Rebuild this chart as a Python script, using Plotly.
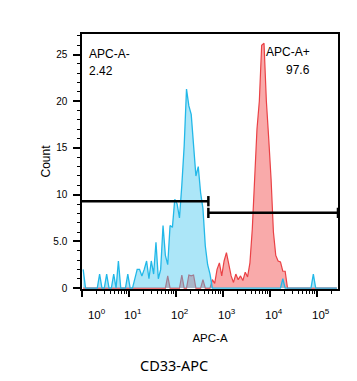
import plotly.graph_objects as go
import numpy as np

# ---- data (x in decades of APC-A, bins of 0.05 decade) ----
bin_start = 0.0
bin_width = 0.05
blue_counts = [2, 0, 0, 0, 0, 0, 0, 1.5, 0, 0,
               1.5, 0, 0, 1.5, 0, 2.9, 0, 0, 0, 1.5,
               0, 0, 1, 2, 2, 1.3, 2, 2.9, 1, 2.9,
               1.5, 4.9, 1, 2, 6.7, 3.5, 2.5, 6.7, 6.5, 9.5,
               9, 7.5, 11, 15.2, 21.3, 19.5, 18.6, 15.2, 12, 13,
               10.2, 8.5, 4.5, 2.5, 1.5, 0, 0, 0, 0, 0,
               0, 0, 0, 0, 0, 0, 0, 0, 0, 0,
               0, 0, 0, 0, 0, 0, 0, 0, 0, 0,
               0, 0, 0, 0, 0, 1, 0, 0, 0, 0,
               0, 0, 0, 0, 0, 0, 0, 0, 1.5, 0,
               0, 0, 0, 0, 0, 0, 0, 0, 0]
red_counts = [0, 0, 0, 0, 0, 0, 0, 0, 0, 0,
              0, 0, 0, 0, 0, 0, 0, 0, 0, 0,
              0, 0, 0, 0, 0, 0, 0, 0, 0, 0,
              0, 0, 0, 0, 0, 0, 1.3, 0, 0, 0,
              0, 0, 1.4, 0, 0, 1.4, 1.3, 1.4, 0, 0,
              0, 0.9, 0, 0, 0, 0.9, 0.5, 2, 2.7, 1.3,
              2.9, 3.8, 2.4, 1.3, 0.6, 1.5, 0.9, 1.3, 0.8, 1.7,
              1.2, 2.7, 6.3, 12.5, 17, 20, 26, 26.2, 20, 16,
              11.7, 6, 3.5, 2.9, 2.8, 1.8, 1.8, 0, 0, 0,
              0, 0, 0, 0, 0, 0, 0, 0, 0, 0,
              0, 0, 0, 0, 0, 0, 0, 0, 0]

x_range = [0, 5.45]
y_range = [-0.1, 27.2]

y_tickvals = [0, 5, 10, 15, 20, 25]
y_ticktext = ["0", "5.0", "10", "15", "20", "25"]
x_decades = [0, 1, 2, 3, 4, 5]
x_ticktext = ["10<sup>%d</sup>" % d for d in x_decades]
x_label_pos = [0.31, 1.08, 2.08, 3.08, 4.08, 5.08]

gate_split = 2.69
gate_neg = {"name": "APC-A-", "x": [0, gate_split], "y": 9.3, "pct": "2.42"}
gate_pos = {"name": "APC-A+", "x": [gate_split, 5.45], "y": 8.05, "pct": "97.6"}

# ---- build ----
n = len(blue_counts)
xc = bin_start + bin_width * (np.arange(n) + 0.5)

fig = go.Figure()
fig.add_trace(go.Scatter(x=xc, y=red_counts, mode="lines", line=dict(color="#ea4145", width=1.2),
                         fill="tozeroy", fillcolor="#f9aaaa", hoverinfo="skip", showlegend=False))
fig.add_trace(go.Scatter(x=xc, y=blue_counts, mode="lines", line=dict(color="#22b8e8", width=1.3),
                         fill="tozeroy", fillcolor="rgba(70,200,240,0.45)", hoverinfo="skip",
                         showlegend=False))

# gates
h = 0.55
for g, left_tick in ((gate_neg, False), (gate_pos, True)):
    x0, x1 = g["x"]
    y = g["y"]
    gx, gy = [], []
    if left_tick:
        gx += [x0, x0, None]
        gy += [y - h, y + h, None]
    gx += [x0, x1, None, x1, x1]
    gy += [y, y, None, y - h, y + h]
    fig.add_trace(go.Scatter(x=gx, y=gy, mode="lines", line=dict(color="black", width=2.5),
                             hoverinfo="skip", showlegend=False, cliponaxis=False))

minor_x = [d + np.log10(k) for d in range(0, 6) for k in range(2, 10) if d + np.log10(k) < x_range[1]]

fig.update_layout(
    width=357, height=381,
    margin=dict(l=82, r=19, t=34, b=92),
    paper_bgcolor="white", plot_bgcolor="white",
    font=dict(family="Liberation Sans, Arial, sans-serif", color="black", size=10),
    xaxis=dict(range=x_range, showgrid=False, zeroline=False,
               showline=True, linecolor="black", linewidth=1.5, mirror=True,
               tickmode="array", tickvals=x_decades, showticklabels=False,
               ticks="outside", ticklen=6, tickwidth=2, tickcolor="black",
               minor=dict(tickmode="array", tickvals=minor_x, ticks="outside",
                          ticklen=3, tickwidth=1, tickcolor="black")),
    xaxis2=dict(range=x_range, overlaying="x", anchor="y", side="bottom", showgrid=False,
                zeroline=False, showline=False, ticks="", tickmode="array",
                tickvals=x_label_pos, ticktext=x_ticktext, tickfont=dict(size=11.5),
                ticklabelstandoff=17,
                title=dict(text="APC-A", font=dict(size=11.5), standoff=14)),
    yaxis=dict(range=y_range, showgrid=False, zeroline=False,
               showline=True, linecolor="black", linewidth=1.5, mirror=True,
               tickmode="array", tickvals=y_tickvals, ticktext=y_ticktext,
               ticks="outside", ticklen=7, tickwidth=2, tickcolor="black",
               tickfont=dict(size=10), ticklabelstandoff=4,
               minor=dict(dtick=1, ticks="outside", ticklen=3, tickwidth=1, tickcolor="black"),
               title=dict(text="Count", font=dict(size=12), standoff=0)),
)
# dummy trace to activate xaxis2
fig.add_trace(go.Scatter(x=[None], y=[None], xaxis="x2", showlegend=False, hoverinfo="skip"))

fig.add_annotation(x=0.02, y=0.922, xref="paper", yref="paper", text=gate_neg["name"],
                   showarrow=False, xanchor="left", yanchor="middle", font=dict(size=12))
fig.add_annotation(x=0.02, y=0.853, xref="paper", yref="paper", text=gate_neg["pct"],
                   showarrow=False, xanchor="left", yanchor="middle", font=dict(size=12))
fig.add_annotation(x=0.898, y=0.929, xref="paper", yref="paper", text=gate_pos["name"],
                   showarrow=False, xanchor="right", yanchor="middle", font=dict(size=12))
fig.add_annotation(x=0.898, y=0.857, xref="paper", yref="paper", text=gate_pos["pct"],
                   showarrow=False, xanchor="right", yanchor="middle", font=dict(size=12))
fig.add_annotation(x=0.361, y=-0.298, xref="paper", yref="paper", text="CD33-APC",
                   showarrow=False, xanchor="center", yanchor="middle",
                   font=dict(size=14.5, family="Noto Sans, Open Sans, sans-serif"))

fig.write_html("out.html", config={"displayModeBar": False},
               post_script="document.body.style.margin='0';")
